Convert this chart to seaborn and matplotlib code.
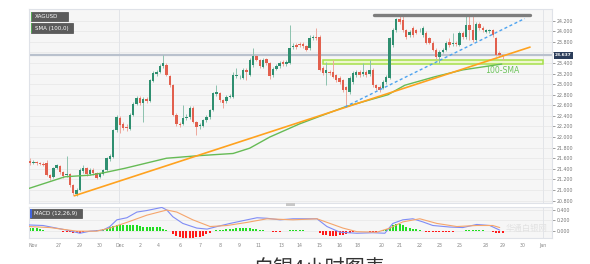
import numpy as np
import pandas as pd
import matplotlib
matplotlib.use("Agg")
import matplotlib.pyplot as plt
import matplotlib.transforms as mtrans
from matplotlib.patches import Rectangle
import seaborn as sns

# ---------------- data (4h candles, XAGUSD) ----------------
opens = [21.55, 21.51, 21.53, 21.51, 21.49, 21.51, 21.28, 21.25, 21.42, 21.45,
         21.34, 21.28, 21.30, 21.09, 20.92, 21.00, 21.36, 21.42, 21.30, 21.38,
         21.32, 21.25, 21.30, 21.38, 21.58, 21.62, 22.13, 22.36, 22.25, 22.19,
         22.15, 22.42, 22.63, 22.74, 22.64, 22.72, 22.68, 23.06, 23.19, 23.23,
         23.34, 23.36, 23.15, 22.98, 22.42, 22.25, 22.25, 22.36, 22.38, 22.55,
         22.29, 22.21, 22.21, 22.32, 22.38, 22.51, 22.81, 22.83, 22.70, 22.68,
         22.76, 22.76, 23.15, 23.13, 23.12, 23.27, 23.17, 23.36, 23.53, 23.46,
         23.32, 23.47, 23.40, 23.17, 23.29, 23.34, 23.42, 23.38, 23.40, 23.70,
         23.74, 23.76, 23.76, 23.72, 23.68, 23.87, 23.89, 23.89, 23.31, 23.21,
         23.23, 23.23, 23.17, 23.12, 23.08, 22.95, 22.85, 23.04, 23.17, 23.23,
         23.19, 23.23, 23.19, 23.27, 22.98, 22.95, 22.93, 23.04, 23.12, 23.74,
         24.02, 24.23, 24.21, 24.02, 23.93, 24.06, 24.02, 24.02, 23.93, 23.97,
         23.87, 23.78, 23.65, 23.51, 23.61, 23.65, 23.80, 23.76, 23.78, 23.74,
         23.97, 23.89, 24.12, 24.02, 23.84, 24.14, 24.06, 23.99, 24.00, 24.02,
         23.87, 23.59, 23.55]
closes = [21.51, 21.53, 21.51, 21.49, 21.47, 21.28, 21.23, 21.42, 21.47, 21.34,
          21.26, 21.30, 21.09, 20.94, 21.00, 21.38, 21.42, 21.30, 21.38, 21.32,
          21.23, 21.30, 21.38, 21.60, 21.64, 22.13, 22.38, 22.23, 22.17, 22.17,
          22.42, 22.63, 22.74, 22.64, 22.72, 22.68, 23.08, 23.21, 23.23, 23.34,
          23.40, 23.17, 22.98, 22.42, 22.25, 22.23, 22.36, 22.38, 22.55, 22.29,
          22.19, 22.23, 22.32, 22.38, 22.51, 22.83, 22.85, 22.70, 22.64, 22.76,
          22.78, 23.17, 23.17, 23.14, 23.27, 23.23, 23.46, 23.53, 23.46, 23.34,
          23.46, 23.40, 23.15, 23.29, 23.34, 23.40, 23.38, 23.42, 23.68, 23.72,
          23.70, 23.74, 23.72, 23.65, 23.87, 23.89, 23.87, 23.27, 23.21, 23.27,
          23.21, 23.14, 23.08, 23.04, 22.89, 22.89, 23.12, 23.21, 23.23, 23.17,
          23.23, 23.17, 23.27, 22.98, 22.93, 22.89, 23.04, 23.14, 23.87, 24.02,
          24.23, 24.17, 24.02, 23.89, 23.99, 23.93, 23.97, 24.03, 24.06, 23.78,
          23.78, 23.65, 23.51, 23.61, 23.65, 23.78, 23.74, 23.78, 23.76, 23.97,
          23.89, 24.12, 24.02, 23.84, 24.14, 24.06, 24.02, 24.02, 24.02, 23.93,
          23.55, 23.55, 23.53]
highs = [21.60, 21.56, 21.55, 21.53, 21.52, 21.57, 21.31, 21.44, 21.50, 21.47,
         21.36, 21.64, 21.32, 21.12, 21.03, 21.42, 21.47, 21.44, 21.42, 21.41,
         21.34, 21.33, 21.40, 21.63, 21.68, 22.16, 22.42, 22.40, 22.28, 22.24,
         22.45, 22.66, 22.78, 22.77, 22.76, 22.75, 23.10, 23.24, 23.27, 23.38,
         23.55, 23.40, 23.18, 23.00, 22.45, 22.28, 22.61, 22.44, 22.58, 22.58,
         22.31, 22.27, 22.35, 22.41, 22.54, 22.86, 22.98, 22.86, 22.72, 22.79,
         22.81, 23.23, 23.31, 23.17, 23.30, 23.30, 23.49, 23.68, 23.56, 23.48,
         23.49, 23.50, 23.42, 23.32, 23.38, 23.43, 23.45, 23.45, 24.12, 23.77,
         23.78, 23.80, 23.79, 23.74, 23.93, 23.93, 24.06, 23.92, 23.34, 23.42,
         23.26, 23.46, 23.20, 23.15, 23.10, 22.97, 23.15, 23.24, 23.26, 23.26,
         23.40, 23.26, 23.46, 23.30, 23.01, 22.98, 23.07, 23.17, 23.90, 24.06,
         24.26, 24.29, 24.29, 24.05, 24.03, 24.09, 24.05, 24.06, 24.09, 24.00,
         23.90, 23.81, 23.68, 23.64, 23.68, 23.81, 23.87, 23.97, 23.81, 24.00,
         24.00, 24.29, 24.29, 24.29, 24.17, 24.17, 24.09, 24.05, 24.05, 24.05,
         23.90, 23.62, 23.57]
lows = [21.47, 21.49, 21.48, 21.47, 21.45, 21.26, 21.19, 21.22, 21.39, 21.31,
        21.22, 21.25, 21.05, 20.90, 20.88, 20.98, 21.33, 21.27, 21.28, 21.29,
        21.20, 21.22, 21.28, 21.36, 21.55, 21.60, 22.10, 22.08, 22.13, 22.12,
        22.13, 22.40, 22.60, 22.61, 22.29, 22.64, 22.66, 23.04, 23.16, 23.21,
        23.31, 23.15, 22.95, 22.40, 22.21, 22.19, 22.23, 22.33, 22.35, 22.26,
        22.04, 22.16, 22.19, 22.29, 22.35, 22.49, 22.78, 22.67, 22.55, 22.65,
        22.73, 22.74, 23.12, 23.10, 23.10, 23.08, 23.15, 23.33, 23.43, 23.31,
        23.30, 23.37, 23.10, 23.14, 23.26, 23.31, 23.35, 23.35, 23.38, 23.66,
        23.67, 23.71, 23.69, 23.62, 23.65, 23.84, 23.83, 23.25, 23.18, 22.98,
        23.17, 23.11, 23.05, 23.01, 22.86, 22.57, 22.82, 23.01, 23.14, 23.14,
        23.16, 23.14, 23.16, 22.95, 22.89, 22.85, 22.90, 23.01, 23.10, 23.71,
        23.99, 24.14, 23.99, 23.86, 23.90, 23.90, 23.94, 23.99, 23.90, 23.75,
        23.75, 23.62, 23.48, 23.40, 23.58, 23.62, 23.71, 23.73, 23.73, 23.72,
        23.86, 23.86, 23.84, 23.80, 23.82, 24.03, 23.99, 23.96, 23.97, 23.90,
        23.53, 23.51, 23.46]

# 100-period SMA (candle index, price)
sma_idx = [-0.3, 10.5, 18, 22.5, 28.5, 41, 51, 61, 66, 72, 81, 94.6, 107.5, 112.6, 121.6, 130, 141.7]
sma_val = [21.03, 21.25, 21.28, 21.33, 21.41, 21.60, 21.65, 21.69, 21.79, 22.00, 22.25, 22.57, 22.80, 22.98, 23.14, 23.27, 23.38]

# drawn trend lines / levels
rising_idx = [13.3, 150.2]
rising_val = [20.89, 23.70]
dashed_idx = [94.6, 148.6]
dashed_val = [22.57, 24.24]
top_idx = [103.3, 150.2]
top_val = [24.30, 24.30]
zone_idx = [88, 154]
zone_val = [23.38, 23.45]
last_level = 23.55
last_label = "23.637"

# MACD (12,26,9)
macd_idx = [-0.3, 3.9, 11.1, 15, 18, 21.9, 24, 26.1, 29.1, 32.1, 35.1, 39.6, 41.1, 42.9, 45.9,
            50.1, 53.2, 56.2, 60.1, 65.2, 68.2, 71.2, 75.1, 79, 86.2, 89.2, 93.1, 98.2, 103,
            106.6, 109, 112, 115, 118, 121, 126.1, 130, 134.2, 138.1, 141.1]
macd_val = [0.11, 0.10, 0.01, -0.05, -0.01, 0.01, 0.08, 0.21, 0.25, 0.36, 0.39, 0.45, 0.40, 0.27, 0.14,
            0.05, 0.03, 0.08, 0.14, 0.21, 0.25, 0.24, 0.21, 0.23, 0.23, 0.08, -0.03, -0.05, -0.04,
            -0.05, 0.14, 0.21, 0.23, 0.17, 0.10, 0.07, 0.06, 0.12, 0.10, 0.01]
signal_idx = [-0.3, 6, 14.1, 20, 24, 29.1, 35.1, 41.1, 44.1, 48.9, 54.1, 59.2, 65.2, 71.2, 79,
              86.2, 94, 98.2, 104.2, 108.1, 112, 117.1, 122.2, 128.2, 134.2, 139, 141.1]
signal_val = [0.08, 0.06, -0.01, -0.01, 0.05, 0.16, 0.30, 0.40, 0.36, 0.21, 0.08, 0.10, 0.16, 0.23, 0.21,
              0.23, 0.05, -0.02, -0.03, 0.05, 0.17, 0.23, 0.14, 0.08, 0.10, 0.10, 0.06]
hist = [0.06, 0.06, 0.05, 0.04, 0.01, 0.00, -0.01, -0.01, -0.01, -0.01,
        -0.02, -0.02, -0.03, -0.05, -0.05, -0.04, -0.02, -0.01, 0.00, 0.00,
        0.01, 0.02, 0.03, 0.05, 0.07, 0.09, 0.11, 0.11, 0.11, 0.10,
        0.10, 0.10, 0.10, 0.09, 0.08, 0.08, 0.08, 0.08, 0.07, 0.07,
        0.04, 0.02, 0.00, -0.06, -0.10, -0.13, -0.14, -0.14, -0.14, -0.14,
        -0.13, -0.12, -0.10, -0.07, -0.04, -0.01, 0.01, 0.02, 0.02, 0.03,
        0.03, 0.04, 0.05, 0.05, 0.05, 0.05, 0.05, 0.04, 0.03, 0.02,
        0.02, 0.00, -0.01, -0.02, -0.02, -0.02, -0.01, 0.00, 0.01, 0.01,
        0.01, 0.01, 0.01, 0.00, 0.00, 0.00, -0.01, -0.05, -0.08, -0.09,
        -0.10, -0.10, -0.10, -0.09, -0.08, -0.07, -0.05, -0.02, -0.01, -0.01,
        -0.01, -0.01, -0.02, -0.02, -0.02, -0.01, 0.01, 0.04, 0.08, 0.11,
        0.12, 0.12, 0.10, 0.08, 0.06, 0.04, 0.03, 0.01, -0.01, -0.02,
        -0.03, -0.03, -0.03, -0.03, -0.03, -0.02, -0.02, -0.02, -0.01, -0.01,
        0.00, 0.01, 0.01, 0.01, 0.01, 0.01, 0.01, 0.00, -0.01, -0.02,
        -0.04, -0.05, -0.05]

price_ticks = [20.8, 21.0, 21.2, 21.4, 21.6, 21.8, 22.0, 22.2, 22.4, 22.6, 22.8,
               23.0, 23.2, 23.4, 23.6, 23.8, 24.0, 24.2]
hidden_tick = 23.6   # covered by the last-price box
macd_ticks = [0.0, 0.2, 0.4]
date_pos = [1, 8.5, 15, 21, 27, 33, 38.5, 45, 51, 57, 63, 68.5, 75.5, 81, 87, 93, 98.5,
            105.5, 111, 117, 123, 129, 137, 142, 148, 154]
date_labels = ["Nov", "27", "29", "30", "Dec", "2", "4", "6", "7", "8", "9", "11", "13", "14",
               "15", "16", "18", "20", "21", "22", "23", "25", "28", "29", "30", "Jan"]
month_lines = [26.7, 154.1]

# ---------------- styling ----------------
sns.set_theme(style="white")
plt.rcParams['font.family'] = ['DejaVu Sans', 'Noto Sans CJK SC']

W, H = 590, 264
fig = plt.figure(figsize=(W / 100, H / 100), dpi=100)
fig.patch.set_facecolor("white")

def fx(px):
    return px / W

def fy(py):
    return 1 - py / H

L, R = 29, 552
ax = fig.add_axes([fx(L), fy(203), fx(R) - fx(L), fy(9.3) - fy(203)])
ax2 = fig.add_axes([fx(L), fy(238.3), fx(R) - fx(L), fy(206.7) - fy(238.3)])

bg = "#f6f6f6"
spine_c = "#dfe2e8"
grid_c = "#e9e9e9"
for a in (ax, ax2):
    a.set_facecolor(bg)
    for s in a.spines.values():
        s.set_color(spine_c)
        s.set_linewidth(0.8)

xmin, xmax = -0.3, 156.8
ax.set_xlim(xmin, xmax)
ax2.set_xlim(xmin, xmax)
ax.set_ylim(20.754, 24.415)
ax2.set_ylim(-0.148, 0.464)

# grids
for t in price_ticks:
    ax.axhline(t, color=grid_c, lw=0.6, zorder=0)
for t in macd_ticks:
    ax2.axhline(t, color=grid_c, lw=0.6, zorder=0)
for m in month_lines:
    ax.axvline(m, color="#e2e4e8", lw=0.7, zorder=0)
    ax2.axvline(m, color="#e2e4e8", lw=0.7, zorder=0)

# ---------------- candles ----------------
df = pd.DataFrame({"o": opens, "h": highs, "l": lows, "c": closes})
df["x"] = np.arange(len(df))
up = df["c"] >= df["o"]
green, red = "#2f8f70", "#e2604e"
cols = np.where(up, green, red)
wick_cols = np.where(up, "#8cc2ae", "#eea79c")
ax.vlines(df["x"], df["l"], df["h"], colors=wick_cols, lw=0.7, zorder=2)
body_lo = np.minimum(df["o"], df["c"])
body_h = np.maximum(np.abs(df["c"] - df["o"]), 0.012)
ax.bar(df["x"], body_h, bottom=body_lo, width=0.72, color=cols, lw=0, zorder=3)

# support zone rectangle
ax.add_patch(Rectangle((zone_idx[0], zone_val[0]), zone_idx[1] - zone_idx[0],
                       zone_val[1] - zone_val[0], facecolor="#eef7cf",
                       edgecolor="#a6e04a", lw=1.1, zorder=1.5))

# current level line
ax.axhline(last_level, color="#b9c1cd", lw=1.6, zorder=1.8)

# lines via seaborn
sns.lineplot(x=sma_idx, y=sma_val, ax=ax, color="#66bb55", lw=1.0, zorder=4)
sns.lineplot(x=rising_idx, y=rising_val, ax=ax, color="#ffa21f", lw=1.2, zorder=5)
sns.lineplot(x=dashed_idx, y=dashed_val, ax=ax, color="#4da3f0", lw=1.0,
             linestyle=(0, (2.2, 1.8)), zorder=5)
sns.lineplot(x=top_idx, y=top_val, ax=ax, color="#7d7d7d", lw=2.4, zorder=5)

ax.text(142, 23.25, "100-SMA", color="#6cc35a", fontsize=5.6, ha="center",
        va="center", zorder=6)

# axes ticks
ax.yaxis.tick_right()
ax.set_yticks(price_ticks)
ax.set_yticklabels(["" if abs(t - hidden_tick) < 1e-6 else f"{t:.3f}" for t in price_ticks])
ax.tick_params(axis="y", labelsize=3.4, colors="#777777", length=2.5, width=0.5, pad=1.2)
ax.set_xticks([])
ax.set_xlabel("")
ax.set_ylabel("")

# price label box
trans = mtrans.blended_transform_factory(ax.transAxes, ax.transData)
ax.text(1.006, last_level, last_label, transform=trans, fontsize=3.2, color="white",
        ha="left", va="center", fontweight="bold", zorder=10, clip_on=False,
        bbox=dict(boxstyle="square,pad=0.35", facecolor="#2c3d5a", edgecolor="none"))

# ---------------- MACD panel ----------------
hcols = np.where(np.array(hist) >= 0, "#22dd22", "#ff1a1a")
ax2.bar(df["x"], hist, width=0.6, color=hcols, lw=0, zorder=2)
sns.lineplot(x=macd_idx, y=macd_val, ax=ax2, color="#7f8cf5", lw=0.8, zorder=3)
sns.lineplot(x=signal_idx, y=signal_val, ax=ax2, color="#f5a56c", lw=0.8, zorder=3)
ax2.yaxis.tick_right()
ax2.set_yticks(macd_ticks)
ax2.set_yticklabels([f"{t:.3f}" for t in macd_ticks])
ax2.tick_params(axis="y", labelsize=3.4, colors="#777777", length=2.5, width=0.5, pad=1.2)
ax2.set_xticks(date_pos)
ax2.set_xticklabels(date_labels)
ax2.tick_params(axis="x", labelsize=3.4, colors="#888888", length=2, width=0.5, pad=1.5)
ax2.set_xlabel("")
ax2.set_ylabel("")

# ---------------- legend boxes ----------------
def tag(x0, y0, x1, y1, text, edge):
    fig.add_artist(Rectangle((fx(x0), fy(y1)), fx(x1) - fx(x0), fy(y0) - fy(y1),
                             transform=fig.transFigure, facecolor="#5b5b5b",
                             edgecolor="#4a4a4a", lw=0.5, zorder=20))
    fig.add_artist(Rectangle((fx(x0), fy(y1)), fx(1.2), fy(y0) - fy(y1),
                             transform=fig.transFigure, facecolor=edge,
                             edgecolor="none", zorder=21))
    fig.text(fx(x0 + 4), fy((y0 + y1) / 2), text, fontsize=4.0, color="white",
             ha="left", va="center", zorder=22)

tag(31, 11.7, 67.7, 20.7, "XAGUSD", "#55aa55")
tag(31, 23.3, 72.7, 33.3, "SMA (100,0)", "#55aa55")
tag(30.5, 209, 81.7, 218.3, "MACD (12,26,9)", "#4466dd")

# scrollbar handle
fig.add_artist(Rectangle((fx(286), fy(205.7)), fx(9), fy(203.3) - fy(205.7),
                         transform=fig.transFigure, facecolor="#c8c8c8",
                         edgecolor="none", zorder=20))

# watermark (faint)
fig.text(fx(506), fy(228), "华通白银网", fontsize=6, color="#e2e2e2", ha="left",
         va="center", family=["Noto Sans CJK SC", "DejaVu Sans"], zorder=1)

# caption, cut off by the bottom edge as in the source image
fig.text(fx(319), fy(257.5), "白银4小时图表", fontsize=14.5, color="#333333",
         ha="center", va="top", family=["Noto Sans CJK SC", "DejaVu Sans"])

fig.savefig("out.png", dpi=100, facecolor="white")
